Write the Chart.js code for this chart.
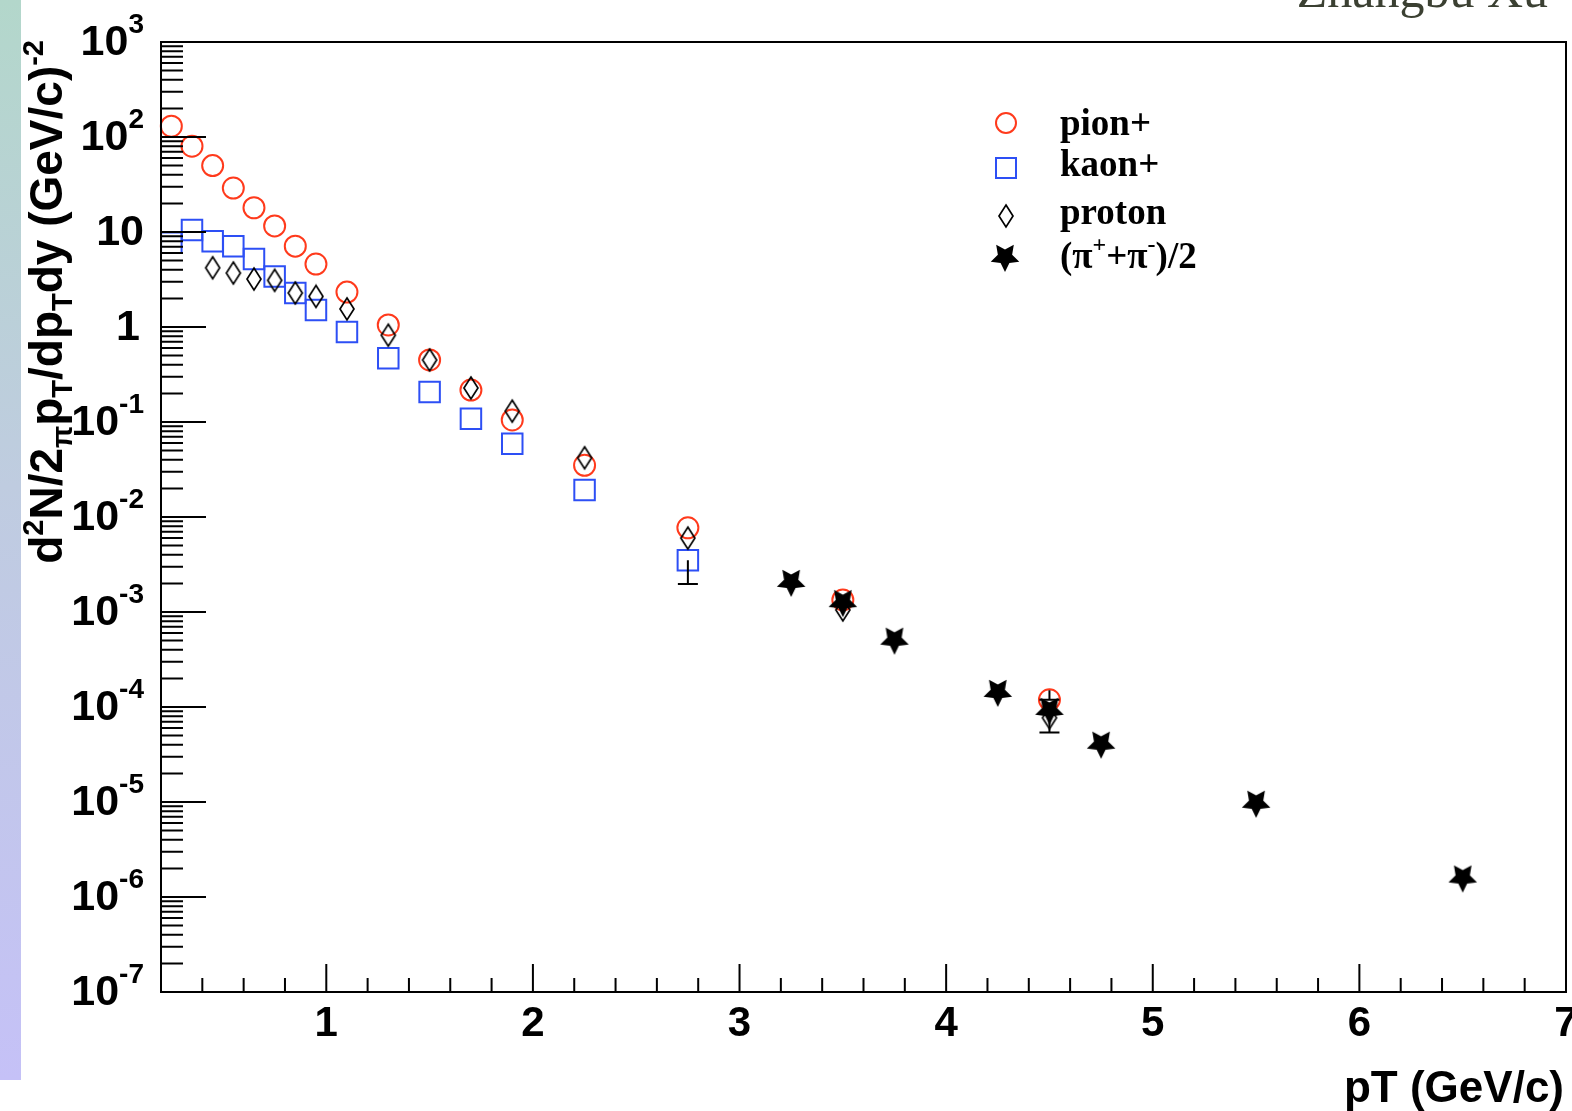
<!DOCTYPE html>
<html>
<head>
<meta charset="utf-8">
<script src="https://cdn.jsdelivr.net/npm/chart.js@4.4.1/dist/chart.umd.min.js"></script>
<style>
html, body { margin: 0; padding: 0; background: #fff; }
#cadre { position: relative; width: 1572px; height: 1111px; overflow: hidden; }
#bande { position: absolute; left: 0; top: 0; width: 21px; height: 1080px;
         background: linear-gradient(#b3d7cb, #bfcce0 45%, #c5c1f7); }
#auteur { position: absolute; right: 24px; top: -35px; font: 50px/50px "Liberation Serif";
          color: #3b4032; white-space: nowrap; }
#grafica { position: absolute; left: 0; top: 0; }
</style>
</head>
<body>
<div id="cadre">
  <div id="bande"></div>
  <div id="auteur">Zhangbu Xu</div>
  <canvas id="grafica" width="1572" height="1111"></canvas>
</div>
<script>
// pT (GeV/c) et d2N/2πpTdpTdy
const ptPion = [0.25, 0.35, 0.45, 0.55, 0.65, 0.75, 0.85, 0.95, 1.1, 1.3, 1.5, 1.7, 1.9, 2.25, 2.75, 3.5, 4.5];
const pion = [130, 80, 50, 29, 18, 11.6, 7.1, 4.6, 2.33, 1.05, 0.45, 0.217, 0.105, 0.035, 0.0077, 0.00134, 1.19e-4];

const ptKaon = [0.25, 0.35, 0.45, 0.55, 0.65, 0.75, 0.85, 0.95, 1.1, 1.3, 1.5, 1.7, 1.9, 2.25, 2.75];
const kaon = [7.7, 10.5, 8.0, 7.1, 5.2, 3.4, 2.28, 1.51, 0.885, 0.47, 0.207, 0.108, 0.059, 0.0192, 0.0035];

const ptProton = [0.45, 0.55, 0.65, 0.75, 0.85, 0.95, 1.1, 1.3, 1.5, 1.7, 1.9, 2.25, 2.75, 3.5, 4.5];
const proton = [4.2, 3.7, 3.2, 3.1, 2.28, 2.1, 1.55, 0.82, 0.45, 0.228, 0.13, 0.042, 0.006, 0.00105, 7.7e-5];

const ptPiMoy = [3.25, 3.5, 3.75, 4.25, 4.5, 4.75, 5.5, 6.5];
const piMoy = [2.07e-3, 1.27e-3, 5.1e-4, 1.44e-4, 9.3e-5, 4.1e-5, 9.8e-6, 1.6e-6];

// barres d'erreur visibles : [pT, bas, haut]
const errKaon = [[2.75, 1.97e-3, 3.5e-3]];
const errPion = [[4.5, 1.19e-4, 1.5e-4]];
const errPiMoy = [[4.5, 5.4e-5, 9.3e-5]];

const etiquettes = ['pion+', 'kaon+', 'proton', '(π+π)/2'];
const ticksX = [1, 2, 3, 4, 5, 6, 7];
const expY = [3, 2, 1, 0, -1, -2, -3, -4, -5, -6, -7];

const rouge = '#ff3a1c';
const bleu = '#2d4ff5';

// 🔹 Marqueurs dessinés à la main (losange étroit, étoile pleine)
function faireLosange() {
    const c = document.createElement('canvas');
    c.width = 18; c.height = 26;
    const g = c.getContext('2d');
    g.strokeStyle = '#000';
    g.lineWidth = 1.7;
    g.beginPath();
    g.moveTo(9, 2); g.lineTo(16, 13); g.lineTo(9, 24); g.lineTo(2, 13);
    g.closePath();
    g.stroke();
    return c;
}

function faireEtoile() {
    const c = document.createElement('canvas');
    c.width = 32; c.height = 32;
    const g = c.getContext('2d');
    g.fillStyle = '#000';
    g.beginPath();
    for (let i = 0; i < 10; i++) {
        const r = i % 2 === 0 ? 15 : 7.5;
        const a = Math.PI / 2 + i * Math.PI / 5; // pointe vers le bas
        const px = 16 + r * Math.cos(a), py = 16 + r * Math.sin(a);
        if (i === 0) g.moveTo(px, py); else g.lineTo(px, py);
    }
    g.closePath();
    g.fill();
    return c;
}

const losange = faireLosange();
const etoile = faireEtoile();

const points = (xs, ys) => xs.map((x, i) => ({ x: x, y: ys[i] }));

// 🔹 Texte avec exposants / indices
function morceaux(ctx, segs, taille, police, dessiner, x0, y0) {
    let x = x0 || 0;
    for (const [t, k] of segs) {
        const s = k === 'n' ? taille : Math.round(taille * 0.64);
        const dy = k === 'sup' ? -taille * 0.42 : (k === 'sub' ? taille * 0.22 : 0);
        ctx.font = `bold ${s}px ${police}`;
        if (dessiner) ctx.fillText(t, x, y0 + dy);
        x += ctx.measureText(t).width;
    }
    return x - (x0 || 0);
}

const erreurs = {
    id: 'erreurs',
    afterDatasetsDraw(chart) {
        const { ctx, scales: { x, y } } = chart;
        ctx.save();
        ctx.strokeStyle = '#000';
        ctx.lineWidth = 2;
        for (const errs of [errKaon, errPion, errPiMoy]) {
            for (const [pt, bas, haut] of errs) {
                const px = x.getPixelForValue(pt);
                const pb = y.getPixelForValue(bas), ph = y.getPixelForValue(haut);
                ctx.beginPath();
                ctx.moveTo(px, ph); ctx.lineTo(px, pb);
                ctx.moveTo(px - 10, pb); ctx.lineTo(px + 10, pb);
                ctx.stroke();
            }
        }
        ctx.restore();
    }
};

const decor = {
    id: 'decor',
    afterDraw(chart) {
        const { ctx, chartArea: a, scales: { x, y } } = chart;
        ctx.save();
        ctx.strokeStyle = '#000';
        ctx.fillStyle = '#000';

        // cadre
        ctx.lineWidth = 2;
        ctx.strokeRect(a.left, a.top, a.right - a.left, a.bottom - a.top);

        // graduations x
        ctx.beginPath();
        for (let v = 0.4; v < 7.01; v += 0.2) {
            const px = x.getPixelForValue(v);
            const major = Math.abs(v - Math.round(v)) < 1e-6;
            ctx.moveTo(px, a.bottom);
            ctx.lineTo(px, a.bottom - (major ? 28 : 14));
        }
        ctx.stroke();

        // graduations y (log)
        ctx.beginPath();
        for (let e = -7; e <= 2; e++) {
            for (let m = 1; m <= 9; m++) {
                const py = y.getPixelForValue(m * Math.pow(10, e));
                ctx.moveTo(a.left, py);
                ctx.lineTo(a.left + (m === 1 ? 45 : 22), py);
            }
        }
        ctx.stroke();

        // étiquettes x
        ctx.font = 'bold 42px "Liberation Sans"';
        ctx.textAlign = 'center';
        ctx.textBaseline = 'middle';
        for (const t of ticksX) {
            ctx.fillText(String(t), x.getPixelForValue(t), 1024);
        }

        // étiquettes y
        ctx.textAlign = 'left';
        ctx.textBaseline = 'middle';
        const xd = 144;
        for (const e of expY) {
            const py = y.getPixelForValue(Math.pow(10, e));
            let segs;
            if (e === 0) segs = [['1', 'n']];
            else if (e === 1) segs = [['10', 'n']];
            else segs = [['10', 'n'], [String(e), 'sup']];
            const w = morceaux(ctx, segs, 43, '"Liberation Sans"', false);
            morceaux(ctx, segs, 43, '"Liberation Sans"', true, xd - w - (e === 0 ? 4 : 0), py + 1);
        }

        // titre x
        ctx.textBaseline = 'alphabetic';
        ctx.textAlign = 'right';
        ctx.font = 'bold 44px "Liberation Sans"';
        ctx.fillText('pT (GeV/c)', 1564, 1102);

        // titre y (vertical)
        ctx.textAlign = 'left';
        const titreY = [['d', 'n'], ['2', 'sup'], ['N/2', 'n'], ['π', 'sub'], ['p', 'n'], ['T', 'sub'],
                        ['/dp', 'n'], ['T', 'sub'], ['dy (GeV/c)', 'n'], ['-2', 'sup']];
        const wt = morceaux(ctx, titreY, 46, '"Liberation Sans"', false);
        ctx.save();
        ctx.translate(62, 40);
        ctx.rotate(-Math.PI / 2);
        morceaux(ctx, titreY, 46, '"Liberation Sans"', true, -wt, 0);
        ctx.restore();

        // légende
        const lx = 1006, tx = 1060;
        const rangs = [123, 168, 216, 257];
        ctx.lineWidth = 2;
        ctx.strokeStyle = rouge;
        ctx.beginPath(); ctx.arc(lx, rangs[0], 10, 0, 2 * Math.PI); ctx.stroke();
        ctx.strokeStyle = bleu;
        ctx.strokeRect(lx - 10, rangs[1] - 10, 20, 20);
        ctx.drawImage(losange, lx - 9, rangs[2] - 13);
        ctx.drawImage(etoile, lx - 17, rangs[3] - 16);
        ctx.fillStyle = '#000';
        ctx.textBaseline = 'alphabetic';
        ctx.font = 'bold 37px "Liberation Serif"';
        ctx.fillText(etiquettes[0], tx, 135);
        ctx.fillText(etiquettes[1], tx, 176);
        ctx.fillText(etiquettes[2], tx, 224);
        morceaux(ctx, [['(π', 'n'], ['+', 'sup'], ['+π', 'n'], ['-', 'sup'], [')/2', 'n']],
                 37, '"Liberation Serif"', true, tx, 268);
        ctx.restore();
    }
};

const ctx = document.getElementById('grafica').getContext('2d');

new Chart(ctx, {
    type: 'scatter',
    data: {
        datasets: [
            {
                label: etiquettes[0], data: points(ptPion, pion), order: 4, clip: false,
                pointStyle: 'circle', pointRadius: 10.5, borderWidth: 2,
                borderColor: rouge, backgroundColor: 'rgba(0,0,0,0)'
            },
            {
                label: etiquettes[1], data: points(ptKaon, kaon), order: 3, clip: false,
                pointStyle: 'rect', pointRadius: 14.5, borderWidth: 2,
                borderColor: bleu, backgroundColor: 'rgba(0,0,0,0)'
            },
            {
                label: etiquettes[2], data: points(ptProton, proton), order: 2, clip: false,
                pointStyle: losange, pointRadius: 10
            },
            {
                label: etiquettes[3], data: points(ptPiMoy, piMoy), order: 1, clip: false,
                pointStyle: etoile, pointRadius: 12
            }
        ]
    },
    options: {
        responsive: false,
        animation: false,
        layout: { autoPadding: false, padding: { left: 161, right: 6, top: 42, bottom: 119 } },
        plugins: {
            legend: { display: false },
            tooltip: { enabled: false }
        },
        scales: {
            x: { type: 'linear', min: 0.2, max: 7, display: false },
            y: { type: 'logarithmic', min: 1e-7, max: 1e3, display: false }
        }
    },
    plugins: [erreurs, decor]
});
</script>
</body>
</html>
